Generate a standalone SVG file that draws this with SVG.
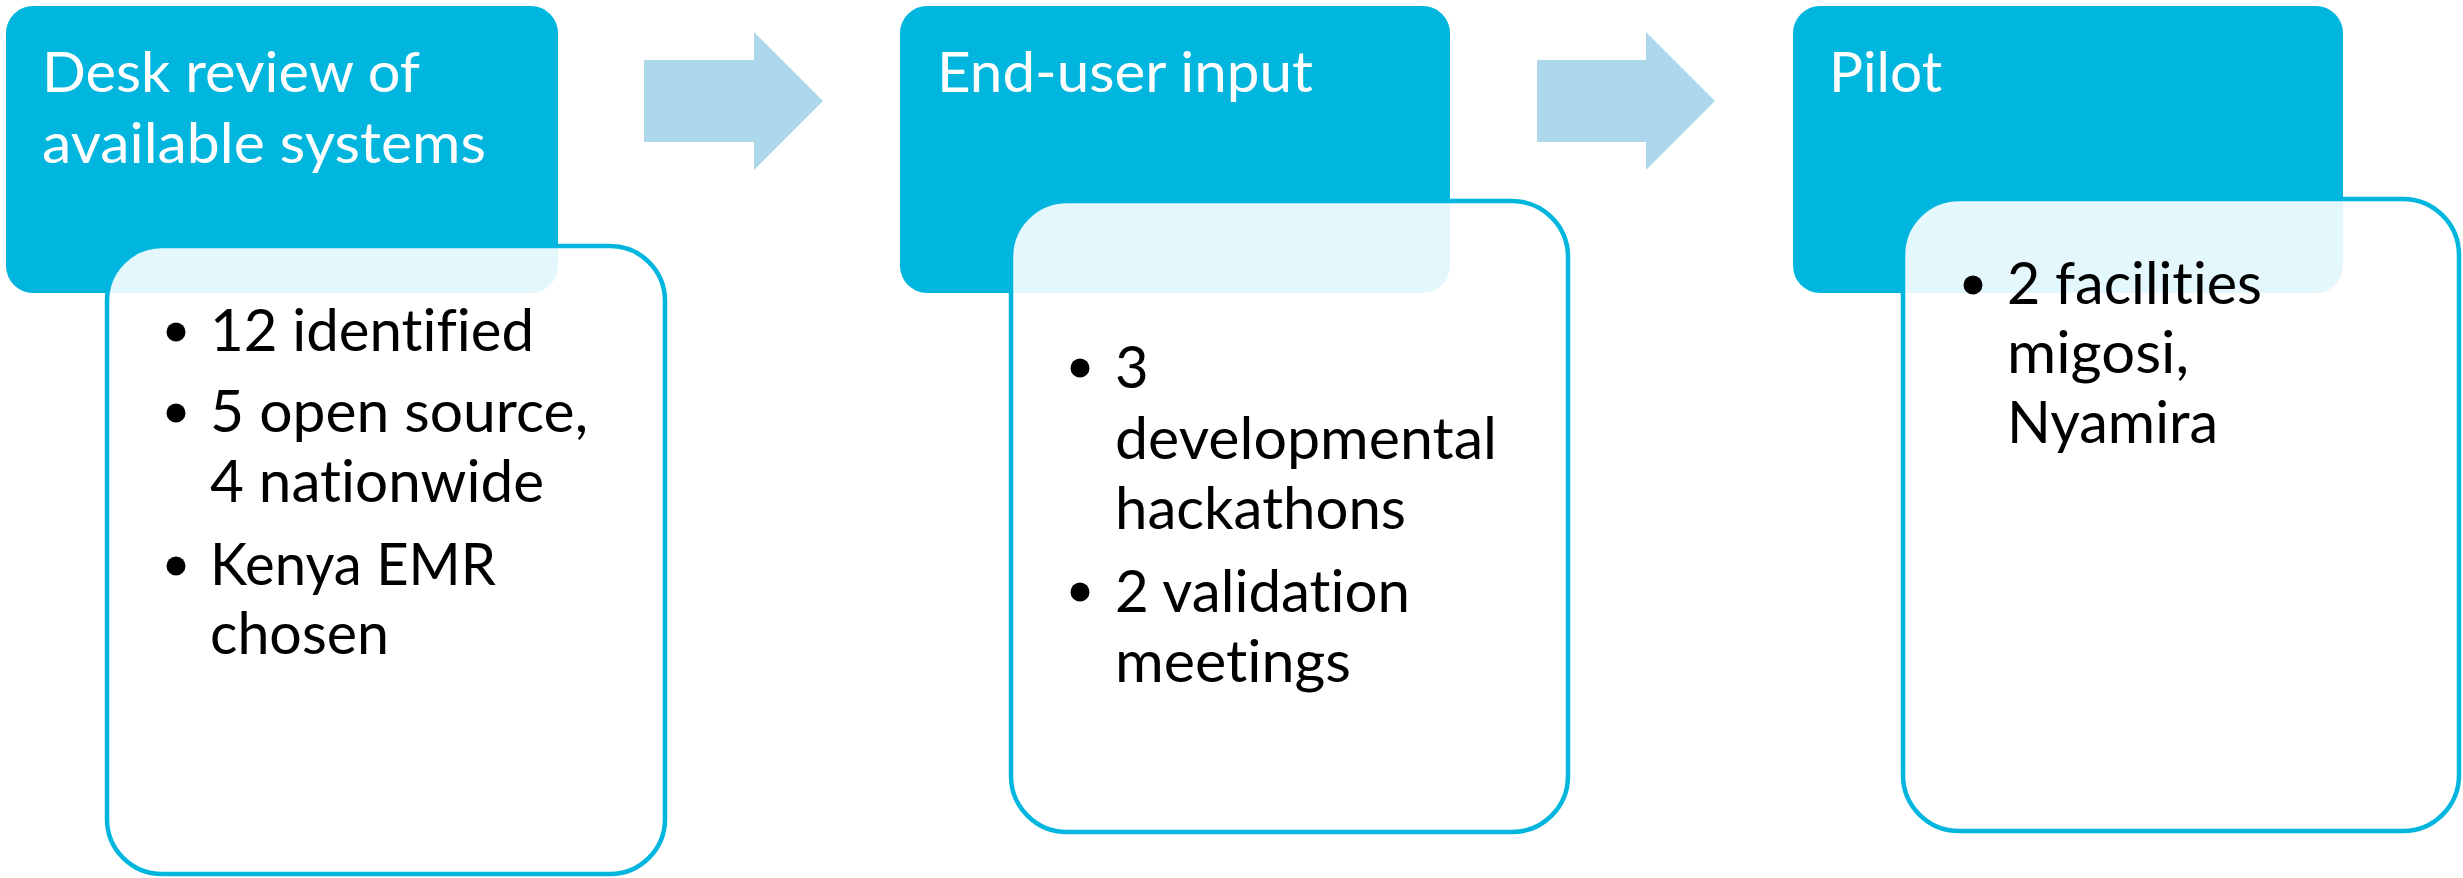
<svg xmlns="http://www.w3.org/2000/svg" width="2463" height="878" viewBox="0 0 2463 878">
<style>
.hdr{fill:#00B6DE;}
.card{fill:#ffffff;fill-opacity:0.89;stroke:#00B6DE;stroke-width:4.5;}
.arrow{fill:#ADD8EB;}
.ht{font-family:Lato,"Liberation Sans",sans-serif;font-size:56px;fill:#ffffff;font-variant-ligatures:none;font-feature-settings:"liga" 0,"clig" 0;}
.bt{font-family:Lato,"Liberation Sans",sans-serif;font-size:58px;fill:#000000;font-variant-ligatures:none;font-feature-settings:"liga" 0,"clig" 0;}
.dot{fill:#000000;}
</style>
<rect width="2463" height="878" fill="#ffffff"/>
<g id="connectors">
<polygon class="arrow" points="644,60 754,60 754,32 823,101 754,170 754,142 644,142"/>
<polygon class="arrow" points="1537,60 1646,60 1646,32 1715,101 1646,170 1646,142 1537,142"/>
</g>
<g id="step1">
<rect class="hdr" x="6" y="6" width="552" height="287" rx="27"/>
<text class="ht" x="42" y="92" textLength="378" lengthAdjust="spacingAndGlyphs">Desk review of</text>
<text class="ht" x="42" y="163" textLength="444" lengthAdjust="spacingAndGlyphs">available systems</text>
</g>
<g id="step1-details">
<rect class="card" x="107" y="246" width="558" height="628" rx="55"/>
<circle class="dot" cx="176" cy="332" r="9.5"/>
<text class="bt" x="210" y="351" textLength="324" lengthAdjust="spacingAndGlyphs">12 identified</text>
<circle class="dot" cx="176" cy="413" r="9.5"/>
<text class="bt" x="210" y="432" textLength="378" lengthAdjust="spacingAndGlyphs">5 open source,</text>
<text class="bt" x="210" y="502" textLength="334" lengthAdjust="spacingAndGlyphs">4 nationwide</text>
<circle class="dot" cx="176" cy="566" r="9.5"/>
<text class="bt" x="210" y="585" textLength="286" lengthAdjust="spacingAndGlyphs">Kenya EMR</text>
<text class="bt" x="210" y="654" textLength="179" lengthAdjust="spacingAndGlyphs">chosen</text>
</g>
<g id="step2">
<rect class="hdr" x="900" y="6" width="550" height="287" rx="27"/>
<text class="ht" x="937" y="92" textLength="376" lengthAdjust="spacingAndGlyphs">End-user input</text>
</g>
<g id="step2-details">
<rect class="card" x="1011" y="201" width="557" height="631" rx="56"/>
<circle class="dot" cx="1080" cy="368" r="9.5"/>
<text class="bt" x="1115" y="388">3</text>
<text class="bt" x="1115" y="459" textLength="382" lengthAdjust="spacingAndGlyphs">developmental</text>
<text class="bt" x="1115" y="529" textLength="291" lengthAdjust="spacingAndGlyphs">hackathons</text>
<circle class="dot" cx="1080" cy="592" r="9.5"/>
<text class="bt" x="1115" y="612" textLength="295" lengthAdjust="spacingAndGlyphs">2 validation</text>
<text class="bt" x="1115" y="682" textLength="236" lengthAdjust="spacingAndGlyphs">meetings</text>
</g>
<g id="step3">
<rect class="hdr" x="1793" y="6" width="550" height="287" rx="27"/>
<text class="ht" x="1829" y="92" textLength="113" lengthAdjust="spacingAndGlyphs">Pilot</text>
</g>
<g id="step3-details">
<rect class="card" x="1903" y="199" width="556" height="632" rx="56"/>
<circle class="dot" cx="1973" cy="285" r="9.5"/>
<text class="bt" x="2007" y="304" textLength="255" lengthAdjust="spacingAndGlyphs">2 facilities</text>
<text class="bt" x="2007" y="373" textLength="182" lengthAdjust="spacingAndGlyphs">migosi,</text>
<text class="bt" x="2007" y="443" textLength="211" lengthAdjust="spacingAndGlyphs">Nyamira</text>
</g>
</svg>
